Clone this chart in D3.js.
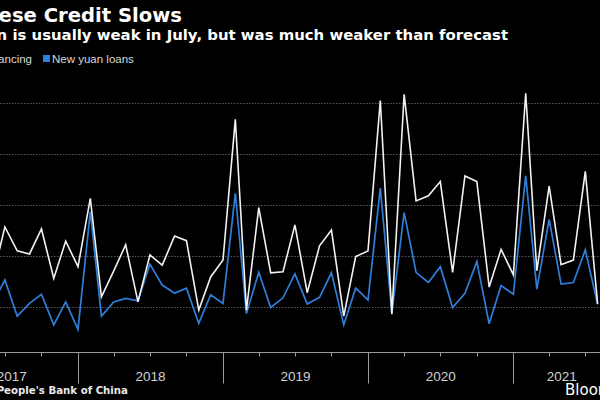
<!DOCTYPE html>
<html><head><meta charset="utf-8">
<script src="https://cdn.jsdelivr.net/npm/d3@7"></script>
<style>
html,body{margin:0;padding:0;background:#000;}
svg{display:block;background:#000;}
</style></head>
<body>
<svg id="chart" width="600" height="400"></svg>
<script>
// ---- data (trillion yuan), monthly ----
const months = [
 "2017-05","2017-06","2017-07","2017-08","2017-09","2017-10","2017-11","2017-12",
 "2018-01","2018-02","2018-03","2018-04","2018-05","2018-06","2018-07","2018-08","2018-09","2018-10","2018-11","2018-12",
 "2019-01","2019-02","2019-03","2019-04","2019-05","2019-06","2019-07","2019-08","2019-09","2019-10","2019-11","2019-12",
 "2020-01","2020-02","2020-03","2020-04","2020-05","2020-06","2020-07","2020-08","2020-09","2020-10","2020-11","2020-12",
 "2021-01","2021-02","2021-03","2021-04","2021-05","2021-06","2021-07"];
const aggregateFinancing = [
 1.60,2.57,2.10,2.04,2.53,1.56,2.29,1.79,
 3.13,1.20,1.71,2.22,1.10,2.02,1.82,2.39,2.30,0.94,1.59,1.92,
 4.68,0.94,2.95,1.67,1.69,2.61,1.28,2.20,2.51,0.82,1.99,2.10,
 5.05,0.86,5.17,3.08,3.18,3.46,1.68,3.57,3.46,1.39,2.13,1.63,
 5.19,1.71,3.37,1.83,1.92,3.66,1.06];
const newYuanLoans = [
 1.08,1.53,0.82,1.07,1.25,0.65,1.10,0.56,
 2.87,0.82,1.10,1.17,1.12,1.84,1.43,1.27,1.37,0.68,1.24,1.07,
 3.23,0.87,1.68,0.99,1.18,1.65,1.06,1.19,1.67,0.65,1.37,1.14,
 3.33,0.88,2.85,1.68,1.48,1.79,0.99,1.27,1.89,0.67,1.42,1.25,
 3.57,1.35,2.72,1.45,1.48,2.12,1.05];
const gridValues = [1,2,3,4,5];
const yearLabels = ["2017","2018","2019","2020","2021"];
const seriesNames = ["Aggregate financing","New yuan loans"];
const titleText = "Chinese Credit Slows";
const subtitleText = "Credit expansion is usually weak in July, but was much weaker than forecast";
const sourceText = "Source: People's Bank of China";

// ---- layout ----
const svg = d3.select("#chart");
const parse = d3.timeParse("%Y-%m");
const axisStart = new Date(2017,1,1), axisEnd = new Date(2021,8,1);
const x = d3.scaleTime().domain([new Date(2018,0,1), new Date(2019,0,1)]).range([78,223]);
const y = d3.scaleLinear().domain([0,5]).range([358,103]);
const axisY = 352.5;
const WHITE = "#f2f2f2", BLUE = "#2f7ed8";

// gridlines
svg.append("g").selectAll("line").data(gridValues).join("line")
  .attr("x1",0).attr("x2",600)
  .attr("y1",d=>Math.round(y(d))+0.5).attr("y2",d=>Math.round(y(d))+0.5)
  .attr("stroke","#5a5a5a").attr("stroke-width",1).attr("stroke-dasharray","1.5,1.5");

// axis
const g = svg.append("g");
g.append("line").attr("x1",x(axisStart)).attr("x2",x(axisEnd)).attr("y1",axisY).attr("y2",axisY)
  .attr("stroke","#9a9a9a").attr("stroke-width",1);
const quarters = d3.timeMonth.every(3).range(axisStart, axisEnd).filter(d=>d.getMonth()!==0);
g.selectAll("line.q").data(quarters).join("line").attr("class","q")
  .attr("x1",d=>Math.round(x(d))+0.5).attr("x2",d=>Math.round(x(d))+0.5)
  .attr("y1",axisY).attr("y2",axisY+4).attr("stroke","#9a9a9a");
const yearsStart = d3.timeYear.range(new Date(2018,0,1), axisEnd);
g.selectAll("line.y").data(yearsStart).join("line").attr("class","y")
  .attr("x1",d=>Math.round(x(d))+0.5).attr("x2",d=>Math.round(x(d))+0.5)
  .attr("y1",axisY).attr("y2",axisY+31).attr("stroke","#9a9a9a");
g.selectAll("text").data(yearLabels).join("text")
  .attr("x",d=>{
    const s = new Date(+d,0,1), e = new Date(+d+1,0,1);
    const a = s<axisStart?axisStart:s, b = e>axisEnd?axisEnd:e;
    return (x(a)+x(b))/2;})
  .attr("y",381).attr("text-anchor","middle")
  .attr("font-family","Liberation Sans, Arial, sans-serif").attr("font-size",13.5)
  .attr("fill","#d0d0d0").text(d=>d);

// lines
const line = d3.line().x(d=>x(d3.timeMonth.offset(parse(d.m),1))).y(d=>y(d.v));
const loansData = months.map((m,i)=>({m, v:newYuanLoans[i]}));
const afData = months.map((m,i)=>({m, v:aggregateFinancing[i]}));
svg.append("path").datum(loansData).attr("d",line).attr("fill","none")
  .attr("stroke",BLUE).attr("stroke-width",1.7).attr("stroke-linejoin","miter");
svg.append("path").datum(afData).attr("d",line).attr("fill","none")
  .attr("stroke",WHITE).attr("stroke-width",1.6).attr("stroke-linejoin","miter");

// titles
svg.append("text").attr("x",182).attr("y",22).attr("text-anchor","end")
  .attr("font-family","DejaVu Sans, sans-serif").attr("font-weight","bold").attr("font-size",19.6)
  .attr("fill","#ffffff").text(titleText);
svg.append("text").attr("x",508).attr("y",40).attr("text-anchor","end")
  .attr("font-family","DejaVu Sans, sans-serif").attr("font-weight","bold").attr("font-size",14.9)
  .attr("fill","#ffffff").text(subtitleText);

// legend
const lg = svg.append("g").attr("font-family","Liberation Sans, Arial, sans-serif").attr("font-size",11.5).attr("fill","#d8d8d8");
lg.append("text").attr("x",32).attr("y",63).attr("text-anchor","end").text(seriesNames[0]);
lg.append("rect").attr("x",-90).attr("y",55).attr("width",7).attr("height",7).attr("fill",WHITE);
lg.append("rect").attr("x",43).attr("y",55).attr("width",7).attr("height",7).attr("fill",BLUE);
lg.append("text").attr("x",52).attr("y",63).text(seriesNames[1]);

// footer
svg.append("text").attr("x",128).attr("y",394).attr("text-anchor","end")
  .attr("font-family","DejaVu Sans, sans-serif").attr("font-weight","bold").attr("font-size",10.2)
  .attr("fill","#e8e8e8").text(sourceText);
svg.append("text").attr("x",565).attr("y",395)
  .attr("font-family","DejaVu Sans, sans-serif").attr("font-size",15)
  .attr("fill","#ffffff").text("Bloomberg");
</script>
</body></html>
